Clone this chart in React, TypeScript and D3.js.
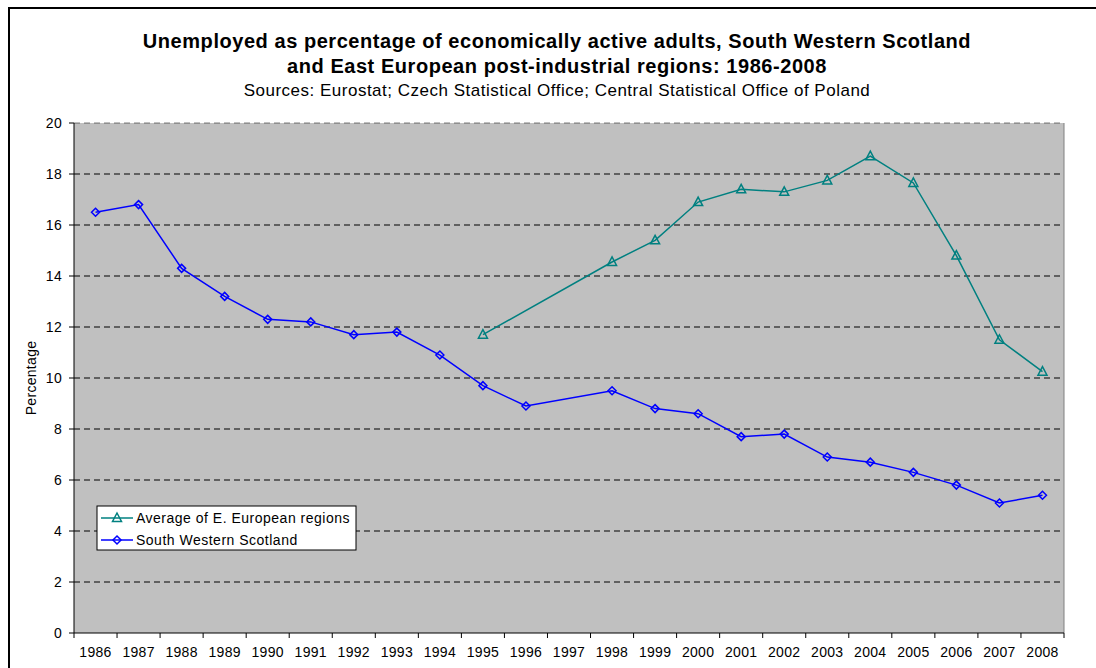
import React from 'react';
import * as d3 from 'd3';

// years on the category axis
const years = ['1986', '1987', '1988', '1989', '1990', '1991', '1992', '1993', '1994', '1995', '1996', '1997',
  '1998', '1999', '2000', '2001', '2002', '2003', '2004', '2005', '2006', '2007', '2008'];

// South Western Scotland (no 1997 value)
const scotland = [16.5, 16.8, 14.3, 13.2, 12.3, 12.2, 11.7, 11.8, 10.9, 9.7, 8.9, null,
  9.5, 8.8, 8.6, 7.7, 7.8, 6.9, 6.7, 6.3, 5.8, 5.1, 5.4];

// Average of E. European regions (starts 1995, no 1996-97)
const eastEurope = [null, null, null, null, null, null, null, null, null, 11.7, null, null,
  14.55, 15.4, 16.9, 17.4, 17.3, 17.75, 18.7, 17.65, 14.8, 11.5, 10.25];

const yTicks = [0, 2, 4, 6, 8, 10, 12, 14, 16, 18, 20];

const W = 1096, H = 668;
const margin = { top: 123, right: 32, bottom: 35, left: 74 };
const font = 'Arial, "Liberation Sans", sans-serif';

const App = () => {
  const x = d3.scaleBand().domain(years).range([margin.left, W - margin.right]).padding(0);
  const y = d3.scaleLinear().domain([0, 20]).range([H - margin.bottom, margin.top]);
  const cx = (yr) => x(yr) + x.bandwidth() / 2;

  const pts = (vals) => years.map((yr, i) => ({ yr, v: vals[i] })).filter(d => d.v !== null);
  const line = d3.line().x(d => cx(d.yr)).y(d => y(d.v));

  const scotPts = pts(scotland);
  const eePts = pts(eastEurope);

  const diamond = (px, py) => `M${px},${py - 4} L${px + 4},${py} L${px},${py + 4} L${px - 4},${py} Z`;
  const triangle = (px, py) => `M${px},${py - 5} L${px + 4.5},${py + 3.5} L${px - 4.5},${py + 3.5} Z`;

  const x0 = margin.left, x1 = W - margin.right, yb = H - margin.bottom, yt = margin.top;

  return (
    <div style={{ position: 'absolute', left: 0, top: 0 }}>
      <svg width={W} height={H} style={{ display: 'block', fontFamily: font }}>
        <rect x={0} y={0} width={W} height={H} fill="#fff" />
        {/* outer chart frame */}
        <rect x={9} y={8} width={W + 20} height={H + 20} fill="none" stroke="#000" strokeWidth={2} />

        {/* titles */}
        <text x={557} y={48} textAnchor="middle" fontSize={20} fontWeight="bold" letterSpacing={0.55}>
          Unemployed as percentage of economically active adults, South Western Scotland
        </text>
        <text x={557} y={73} textAnchor="middle" fontSize={20} fontWeight="bold" letterSpacing={0.55}>
          and East European post-industrial regions: 1986-2008
        </text>
        <text x={557} y={96} textAnchor="middle" fontSize={17} letterSpacing={0.5}>
          Sources: Eurostat; Czech Statistical Office; Central Statistical Office of Poland
        </text>

        {/* plot area */}
        <rect x={x0} y={yt} width={x1 - x0} height={yb - yt} fill="#c0c0c0" />
        <line x1={x1} x2={x1} y1={yt} y2={yb} stroke="#808080" strokeWidth={1} />

        {/* gridlines */}
        {yTicks.filter(t => t > 0).map(t => (
          <line key={t} x1={x0} x2={x1} y1={y(t)} y2={y(t)} stroke="#000" strokeWidth={1}
            strokeDasharray="6,4" opacity={t === 20 ? 0.5 : 1} />
        ))}

        {/* y axis */}
        <line x1={x0} x2={x0} y1={yt} y2={yb} stroke="#000" />
        {yTicks.map(t => (
          <g key={t}>
            <line x1={x0 - 5} x2={x0} y1={y(t)} y2={y(t)} stroke="#000" />
            <text x={62} y={y(t) + 5} textAnchor="end" fontSize={14} letterSpacing={0.3}>{t}</text>
          </g>
        ))}
        <text transform={`translate(36,${(yt + yb) / 2}) rotate(-90)`} textAnchor="middle" fontSize={14}
          letterSpacing={0.3}>Percentage</text>

        {/* x axis */}
        <line x1={x0} x2={x1} y1={yb} y2={yb} stroke="#000" />
        {years.map(yr => (
          <g key={yr}>
            <line x1={x(yr)} x2={x(yr)} y1={yb} y2={yb + 5} stroke="#000" />
            <text x={cx(yr)} y={yb + 24} textAnchor="middle" fontSize={14} letterSpacing={0.3}>{yr}</text>
          </g>
        ))}
        <line x1={x1} x2={x1} y1={yb} y2={yb + 5} stroke="#000" />

        {/* series */}
        <path d={line(eePts)} fill="none" stroke="#008080" strokeWidth={1.5} />
        {eePts.map(d => (
          <path key={d.yr} d={triangle(cx(d.yr), y(d.v))} fill="none" stroke="#008080" strokeWidth={1.5} />
        ))}
        <path d={line(scotPts)} fill="none" stroke="#0000ff" strokeWidth={1.5} />
        {scotPts.map(d => (
          <path key={d.yr} d={diamond(cx(d.yr), y(d.v))} fill="none" stroke="#0000ff" strokeWidth={1.5} />
        ))}

        {/* legend */}
        <rect x={97} y={506} width={259} height={44} fill="#fff" stroke="#000" strokeWidth={1} />
        <line x1={101} x2={133} y1={518} y2={518} stroke="#008080" strokeWidth={1.5} />
        <path d={triangle(117, 518)} fill="none" stroke="#008080" strokeWidth={1.5} />
        <text x={136} y={523} fontSize={14} letterSpacing={0.5}>Average of E. European regions</text>
        <line x1={101} x2={133} y1={540} y2={540} stroke="#0000ff" strokeWidth={1.5} />
        <path d={diamond(117, 540)} fill="none" stroke="#0000ff" strokeWidth={1.5} />
        <text x={136} y={545} fontSize={14} letterSpacing={0.5}>South Western Scotland</text>
      </svg>
    </div>
  );
};

export default App;
